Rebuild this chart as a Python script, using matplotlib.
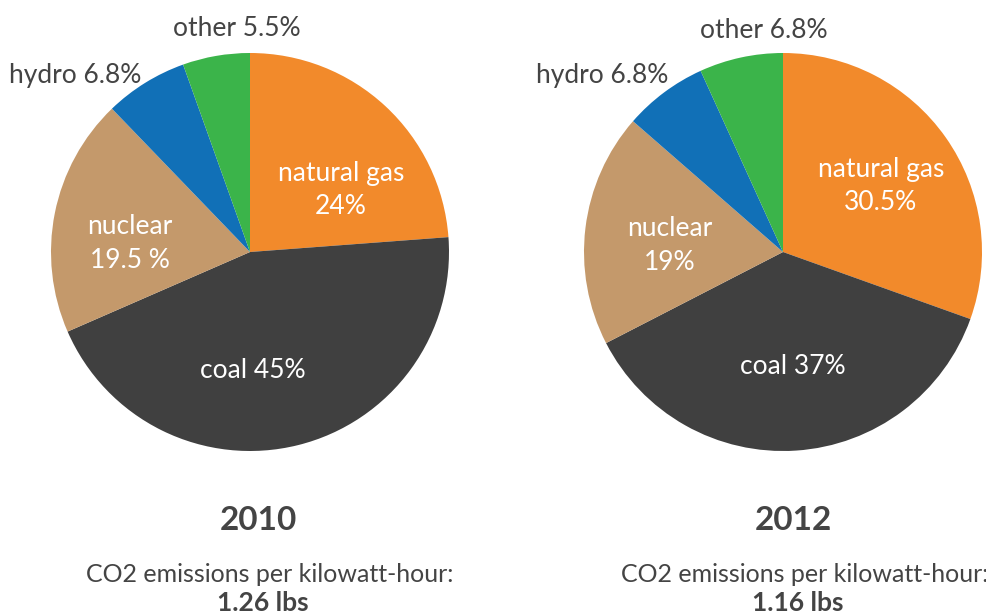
import matplotlib
matplotlib.use("Agg")
import matplotlib.pyplot as plt

categories = ["natural gas", "coal", "nuclear", "hydro", "other"]
values_2010 = [24, 45, 19.5, 6.8, 5.5]
values_2012 = [30.5, 37, 19, 6.8, 6.8]
years = ["2010", "2012"]
emissions = ["1.26 lbs", "1.16 lbs"]
labels_2010 = ["natural gas\n24%", "coal 45%", "nuclear\n19.5 %", "hydro 6.8%", "other 5.5%"]
labels_2012 = ["natural gas\n30.5%", "coal 37%", "nuclear\n19%", "hydro 6.8%", "other 6.8%"]
colors = ["#F28A2B", "#404040", "#C4996B", "#1170B7", "#3BB44A"]

W, H = 987, 614
fig = plt.figure(figsize=(W / 100, H / 100), dpi=100)
FONT = ["Lato", "DejaVu Sans"]
TXT = "#444444"

def fx(x):
    return x / W

def fy(y):
    return 1 - y / H

def draw(cx, cy, r, vals):
    ax = fig.add_axes([fx(cx - r), (H - cy - r) / H, 2 * r / W, 2 * r / H])
    ax.pie(vals, colors=colors, startangle=90, counterclock=False,
           wedgeprops=dict(linewidth=0))
    ax.set_xlim(-1, 1)
    ax.set_ylim(-1, 1)
    ax.set_aspect("equal")
    ax.axis("off")

draw(250, 252, 199, values_2010)
draw(783, 252, 199, values_2012)

def t(x, y, s, size=19, color="white", weight="normal", **kw):
    fig.text(fx(x), fy(y), s, ha="center", va="center", fontsize=size,
             color=color, family=FONT, fontweight=weight, linespacing=1.45, **kw)

# 2010 labels
t(341, 190, labels_2010[0])
t(253, 370, labels_2010[1])
t(130, 243, labels_2010[2])
t(75, 75, labels_2010[3], color=TXT)
t(237, 29, labels_2010[4], color=TXT)

# 2012 labels
t(881, 186, labels_2012[0])
t(793, 367, labels_2012[1])
t(670, 245, labels_2012[2])
t(602, 75, labels_2012[3], color=TXT)
t(764, 30, labels_2012[4], color=TXT)

for xc, yr, em in [(258, years[0], emissions[0]), (793, years[1], emissions[1])]:
    t(xc, 520, yr, size=24, color=TXT, weight="bold")
    t(xc + 12, 575, "CO2 emissions per kilowatt-hour:", size=18, color=TXT)
    t(xc + 5, 603, em, size=19, color=TXT, weight="bold")

fig.savefig("out.png", dpi=100)
